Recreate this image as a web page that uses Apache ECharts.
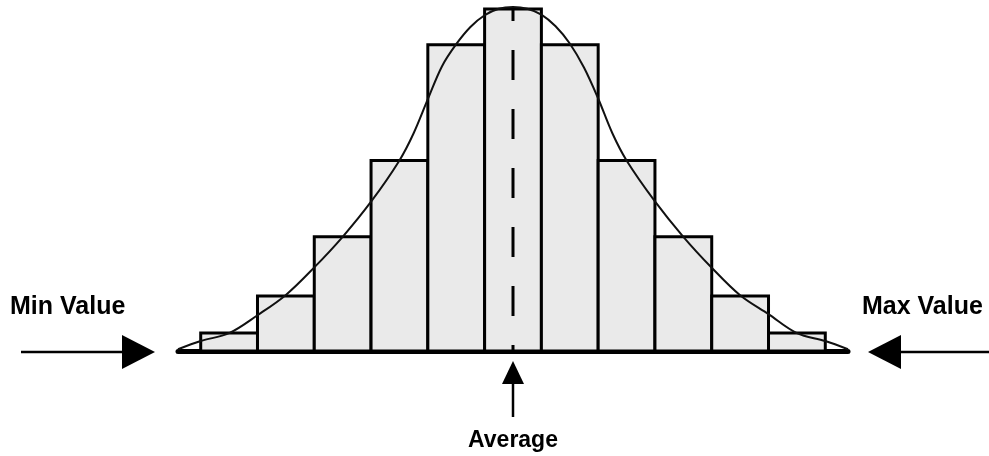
<!DOCTYPE html>
<html>
<head>
<meta charset="utf-8">
<script src="https://cdn.jsdelivr.net/npm/echarts@6/dist/echarts.min.js"></script>
<style>
  html, body { margin: 0; padding: 0; background: #fff; }
  #chart { width: 989px; height: 456px; }
</style>
</head>
<body>
<div id="chart"></div>
<script>
// bins (centre of each class), counts per bin
var binCenters = [-5, -4, -3, -2, -1, 0, 1, 2, 3, 4, 5];
var frequencies = [5.2, 16, 33.2, 55.4, 89, 99.4, 89, 55.4, 33.2, 16, 5.2];

// fitted curve
var curveX = [-5.9, -5.5, -5, -4.5, -4, -3.5, -3, -2.5, -2, -1.75, -1.5, -1.25, -1, -0.75, -0.5, -0.25, 0,
              0.25, 0.5, 0.75, 1, 1.25, 1.5, 1.75, 2, 2.5, 3, 3.5, 4, 4.5, 5, 5.5, 5.9];
var curveY = [0.5, 2.9, 5.2, 10.4, 16.3, 24.3, 33.2, 43.4, 55.4, 63.3, 73.2, 82.8, 89.2, 94.2, 97.6, 99.5, 100,
              99.5, 97.8, 94.4, 89.4, 82.4, 73.4, 63.3, 55.4, 43.5, 33.2, 24.2, 16.2, 10.7, 5.2, 2.9, 0.5];

var average = 0;
var axisMin = -5.9, axisMax = 5.9;
var labels = ['Min Value', 'Max Value', 'Average'];

var myChart = echarts.init(document.getElementById('chart'));

var barData = binCenters.map(function (c, i) { return [c - 0.5, c + 0.5, frequencies[i]]; });
var curveData = curveX.map(function (x, i) { return [x, curveY[i]]; });

myChart.setOption({
    animation: false,
    grid: { left: 178, right: 141, top: 7, bottom: 105 },
    xAxis: {
        type: 'value',
        min: axisMin,
        max: axisMax,
        axisLine: { show: true, onZero: false, lineStyle: { color: '#000', width: 5 } },
        axisTick: { show: false },
        axisLabel: { show: false },
        splitLine: { show: false }
    },
    yAxis: {
        type: 'value',
        min: 0,
        max: 100,
        show: false
    },
    series: [
        {
            type: 'custom',
            z: 2,
            renderItem: function (params, api) {
                var p0 = api.coord([api.value(0), api.value(2)]);
                var p1 = api.coord([api.value(1), 0]);
                return {
                    type: 'rect',
                    shape: { x: p0[0], y: p0[1], width: p1[0] - p0[0], height: p1[1] - p0[1] },
                    style: { fill: '#eaeaea', stroke: '#000', lineWidth: 3 }
                };
            },
            encode: { x: [0, 1], y: 2 },
            data: barData
        },
        {
            type: 'line',
            z: 3,
            data: [[average, 100], [average, 0]],
            symbol: 'none',
            lineStyle: { color: '#000', width: 3, type: [30, 29], dashOffset: 16 }
        },
        {
            type: 'line',
            z: 4,
            data: curveData,
            smooth: 0.35,
            symbol: 'none',
            lineStyle: { color: '#111', width: 2 }
        }
    ]
});

// arrows and labels placed relative to the axis
var base = myChart.convertToPixel({ gridIndex: 0 }, [axisMin, 0]);
var avg = myChart.convertToPixel({ gridIndex: 0 }, [average, 0]);
var y0 = base[1] + 1;
var font = 'bold 25px "Liberation Sans", Arial, sans-serif';
var fontSmall = 'bold 23px "Liberation Sans", Arial, sans-serif';

myChart.setOption({
    graphic: [
        { type: 'line', shape: { x1: 21, y1: y0, x2: 124, y2: y0 }, style: { stroke: '#000', lineWidth: 2.5 } },
        { type: 'polygon', shape: { points: [[122, y0 - 17], [155, y0], [122, y0 + 17]] }, style: { fill: '#000' } },
        { type: 'line', shape: { x1: 900, y1: y0, x2: 989, y2: y0 }, style: { stroke: '#000', lineWidth: 2.5 } },
        { type: 'polygon', shape: { points: [[901, y0 - 17], [868, y0], [901, y0 + 17]] }, style: { fill: '#000' } },
        { type: 'line', shape: { x1: avg[0], y1: 383, x2: avg[0], y2: 417 }, style: { stroke: '#000', lineWidth: 2.5 } },
        { type: 'polygon', shape: { points: [[avg[0] - 11, 384], [avg[0], 361], [avg[0] + 11, 384]] }, style: { fill: '#000' } },
        { type: 'text', x: 10, y: 307, style: { text: labels[0], font: font, fill: '#000', verticalAlign: 'middle' } },
        { type: 'text', x: 862, y: 307, style: { text: labels[1], font: font, fill: '#000', verticalAlign: 'middle' } },
        { type: 'text', x: avg[0], y: 441, style: { text: labels[2], font: fontSmall, fill: '#000', align: 'center', verticalAlign: 'middle' } }
    ]
});
</script>
</body>
</html>
